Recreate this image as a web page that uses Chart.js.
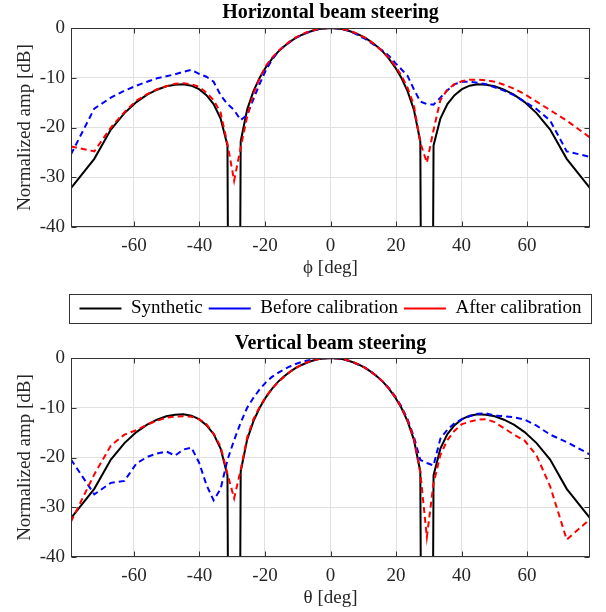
<!DOCTYPE html>
<html>
<head>
<meta charset="utf-8">
<script src="https://cdn.jsdelivr.net/npm/chart.js@4.4.0/dist/chart.umd.min.js"></script>
<style>
  html, body { margin: 0; padding: 0; background: #fff; }
  .plot { position: relative; width: 606px; }
  #top { height: 290px; }
  #bottom { height: 322px; }
</style>
</head>
<body>
<div class="plot" id="top"><canvas id="hChart"></canvas></div>
<div class="plot" id="bottom"><canvas id="vChart"></canvas></div>
<script>
// steering angles [deg]
const angles = [
  -79.23, -72.12, -67.06, -62.91, -59.27, -55.99, -52.97, -50.13, -47.46, -44.92, -42.48,
  -40.14, -37.88, -35.69, -33.55, -31.46, -29.42, -27.42, -25.45, -23.52, -21.62, -19.74,
  -17.88, -16.04, -14.22, -12.41, -10.61, -8.83, -7.05, -5.28, -3.52, -1.76, 0,
  1.76, 3.52, 5.28, 7.05, 8.83, 10.61, 12.41, 14.22, 16.04, 17.88, 19.74, 21.62, 23.52,
  25.45, 27.42, 29.42, 31.46, 33.55, 35.69, 37.88, 40.14, 42.48, 44.92, 47.46, 50.13,
  52.97, 55.99, 59.27, 62.91, 67.06, 72.12, 79.23,
];

// normalized amplitude [dB]; -300 = null, far below the axis
const synthetic = [
  -32.2, -26.3, -20.4, -17.1, -14.9, -13.4, -12.4, -11.7, -11.4, -11.3, -11.6,
  -12.3, -13.5, -15.3, -18.2, -23.6, -300, -22.8, -16.4, -12.7, -10.0, -7.9,
  -6.2, -4.8, -3.7, -2.8, -2.0, -1.4, -0.9, -0.5, -0.2, -0.1, 0,
  -0.1, -0.2, -0.5, -0.9, -1.4, -2.0, -2.8, -3.7, -4.8, -6.2, -7.9, -10.0, -12.7,
  -16.4, -22.8, -300, -23.6, -18.2, -15.3, -13.5, -12.3, -11.6, -11.3, -11.4, -11.7,
  -12.4, -13.4, -14.9, -17.1, -20.4, -26.3, -32.2,
];

const hBefore = [
  -25.4, -16.2, -14.0, -12.6, -11.6, -10.8, -10.1, -9.7, -9.3, -8.8, -8.4,
  -9.2, -9.8, -10.8, -13.5, -15.3, -16.5, -18.5, -17.5, -14.3, -11.2, -8.5,
  -6.4, -4.8, -3.7, -2.8, -2.0, -1.4, -0.9, -0.5, -0.2, -0.05, 0,
  -0.05, -0.2, -0.5, -1.0, -1.6, -2.2, -3.0, -3.8, -4.6, -5.6, -7.0, -8.3, -9.6,
  -12.3, -14.8, -15.3, -15.4, -14.0, -12.5, -11.3, -10.8, -10.8, -11.0, -11.3, -11.9,
  -12.6, -13.5, -14.8, -16.3, -18.6, -24.8, -25.9,
];

const hAfter = [
  -23.8, -24.8, -20.0, -16.9, -14.6, -13.3, -12.3, -11.7, -11.2, -11.1, -11.3,
  -11.8, -13.0, -14.5, -17.0, -23.3, -30.7, -24.0, -17.8, -13.2, -10.0, -7.6,
  -6.0, -4.7, -3.6, -2.7, -1.9, -1.3, -0.8, -0.45, -0.2, -0.05, 0,
  -0.05, -0.2, -0.45, -0.85, -1.35, -2.0, -2.8, -3.7, -4.8, -6.0, -7.6, -9.5, -12.0,
  -15.5, -23.0, -27.1, -20.5, -14.5, -12.4, -11.3, -10.7, -10.4, -10.4, -10.5, -10.8,
  -11.4, -12.2, -13.3, -14.8, -16.5, -18.6, -22.0,
];

const vBefore = [
  -20.4, -27.4, -25.1, -24.7, -21.2, -19.9, -19.2, -18.8, -19.6, -18.4, -18.0,
  -21.0, -25.5, -28.6, -26.3, -20.5, -16.5, -13.0, -10.0, -8.0, -6.3, -4.9,
  -3.8, -3.0, -2.3, -1.7, -1.2, -0.8, -0.5, -0.3, -0.15, -0.05, 0,
  -0.05, -0.2, -0.5, -0.9, -1.4, -2.0, -2.8, -3.7, -4.8, -6.1, -7.7, -9.7, -12.3,
  -15.8, -20.5, -21.1, -21.6, -16.2, -14.4, -13.1, -12.3, -11.7, -11.2, -11.1, -11.6,
  -11.7, -11.9, -12.4, -13.6, -15.4, -16.9, -19.4,
];

const vAfter = [
  -32.9, -23.4, -17.6, -15.4, -14.5, -13.4, -12.6, -12.0, -11.8, -11.7, -11.8,
  -12.3, -13.3, -15.2, -17.8, -23.3, -28.2, -22.5, -16.0, -12.3, -9.8, -7.8,
  -6.2, -4.9, -3.8, -2.8, -2.0, -1.4, -0.85, -0.45, -0.2, -0.05, 0,
  -0.05, -0.2, -0.45, -0.85, -1.35, -2.0, -2.8, -3.7, -4.8, -6.2, -7.8, -9.9, -12.5,
  -16.2, -23.0, -36.0, -25.2, -19.5, -16.5, -14.6, -13.3, -12.8, -12.4, -12.3, -12.9,
  -14.1, -15.4, -16.6, -19.6, -25.8, -36.5, -32.4,
];

const angleTicks = [-60, -40, -20, 0, 20, 40, 60];
const dbTicks = [-40, -30, -20, -10, 0];

const ink = "#262626";
const gridColor = "#e1e1e1";

Chart.defaults.font.family = "'Liberation Serif', 'Times New Roman', Times, serif";
Chart.defaults.font.size = 19;
Chart.defaults.color = ink;

const toPoints = (values) => angles.map((a, i) => ({ x: a, y: values[i] }));

// matlab style box with inward ticks
const axesFrame = {
  id: "axesFrame",
  afterDatasetsDraw(chart) {
    const { ctx, chartArea: a, scales } = chart;
    const l = Math.round(a.left) + 0.5, r = Math.round(a.right) - 0.5;
    const t = Math.round(a.top) + 0.5, b = Math.round(a.bottom) - 0.5;
    ctx.save();
    ctx.strokeStyle = "#333";
    ctx.lineWidth = 1;
    ctx.strokeRect(l, t, r - l, b - t);
    ctx.beginPath();
    scales.x.ticks.forEach((tk) => {
      const px = Math.round(scales.x.getPixelForValue(tk.value)) + 0.5;
      ctx.moveTo(px, b); ctx.lineTo(px, b - 5);
      ctx.moveTo(px, t); ctx.lineTo(px, t + 5);
    });
    scales.y.ticks.forEach((tk) => {
      const py = Math.round(scales.y.getPixelForValue(tk.value)) + 0.5;
      ctx.moveTo(l, py); ctx.lineTo(l + 5, py);
      ctx.moveTo(r, py); ctx.lineTo(r - 5, py);
    });
    ctx.stroke();
    ctx.restore();
  },
};

// border around the legend row
const legendFrame = {
  id: "legendFrame",
  afterDraw(chart) {
    const lg = chart.legend;
    if (!lg || !lg.lineWidths) return;
    const pad = lg.options.labels.padding;
    const x0 = (lg.left + pad + lg.right - lg.lineWidths[0]) / 2;
    const x1 = x0 + lg.lineWidths[0] - pad;
    const { ctx } = chart;
    ctx.save();
    ctx.strokeStyle = "#333";
    ctx.lineWidth = 1;
    ctx.strokeRect(Math.round(x0 - 10) + 0.5, Math.round(lg.top + 1) + 0.5,
      Math.round(x1 - x0 + 20), 29);
    ctx.restore();
  },
};

function beamChart(canvasId, cfg) {
  return new Chart(document.getElementById(canvasId), {
    type: "line",
    data: {
      datasets: [
        { label: "Synthetic", data: toPoints(synthetic), borderColor: "#000000", borderWidth: 2, order: 3 },
        { label: "Before calibration", data: toPoints(cfg.before), borderColor: "#0000ff", borderWidth: 2, borderDash: [6, 4], order: 2 },
        { label: "After calibration", data: toPoints(cfg.after), borderColor: "#ff0000", borderWidth: 2, borderDash: [6, 4], order: 1 },
      ],
    },
    options: {
      animation: false,
      responsive: true,
      maintainAspectRatio: false,
      elements: { point: { radius: 0 }, line: { tension: 0, fill: false } },
      layout: { padding: { top: cfg.padTop, left: 0, right: 16, bottom: 0 } },
      plugins: {
        title: {
          display: true,
          text: cfg.title,
          fullSize: false,
          color: "#000",
          font: { size: 20, weight: "bold" },
          padding: cfg.titlePad,
        },
        legend: cfg.legend
          ? {
              display: true,
              position: "top",
              fullSize: false,
              weight: 3000,
              labels: {
                usePointStyle: true,
                pointStyle: "line",
                pointStyleWidth: 42,
                padding: 6,
                color: "#000",
                font: { size: 19 },
                sort: (a, b) => a.datasetIndex - b.datasetIndex,
              },
            }
          : { display: false },
        tooltip: { enabled: false },
      },
      scales: {
        x: {
          type: "linear",
          min: -79.23,
          max: 79.23,
          afterBuildTicks: (axis) => { axis.ticks = angleTicks.map((v) => ({ value: v })); },
          afterFit: (axis) => { axis.height = cfg.xHeight; },
          grid: { color: gridColor, drawTicks: false },
          border: { display: false },
          ticks: { padding: 8, color: ink },
          title: { display: true, text: cfg.xTitle, color: ink, padding: { top: 0, bottom: cfg.xTitlePad } },
        },
        y: {
          min: -40,
          max: 0,
          afterBuildTicks: (axis) => { axis.ticks = dbTicks.map((v) => ({ value: v })); },
          afterFit: (axis) => { axis.width = 71; },
          grid: { color: gridColor, drawTicks: false },
          border: { display: false },
          ticks: { padding: 6, color: ink },
          title: { display: true, text: "Normalized amp [dB]", color: ink, padding: { top: 14, bottom: 0 } },
        },
      },
    },
    plugins: cfg.legend ? [axesFrame, legendFrame] : [axesFrame],
  });
}

beamChart("hChart", {
  title: "Horizontal beam steering",
  xTitle: "ϕ [deg]",
  before: hBefore,
  after: hAfter,
  legend: false,
  padTop: 0,
  titlePad: { top: 1, bottom: 3 },
  xHeight: 63,
  xTitlePad: 11,
});

beamChart("vChart", {
  title: "Vertical beam steering",
  xTitle: "θ [deg]",
  before: vBefore,
  after: vAfter,
  legend: true,
  padTop: 3,
  titlePad: { top: 4, bottom: 2 },
  xHeight: 55,
  xTitlePad: 3,
});
</script>
</body>
</html>
